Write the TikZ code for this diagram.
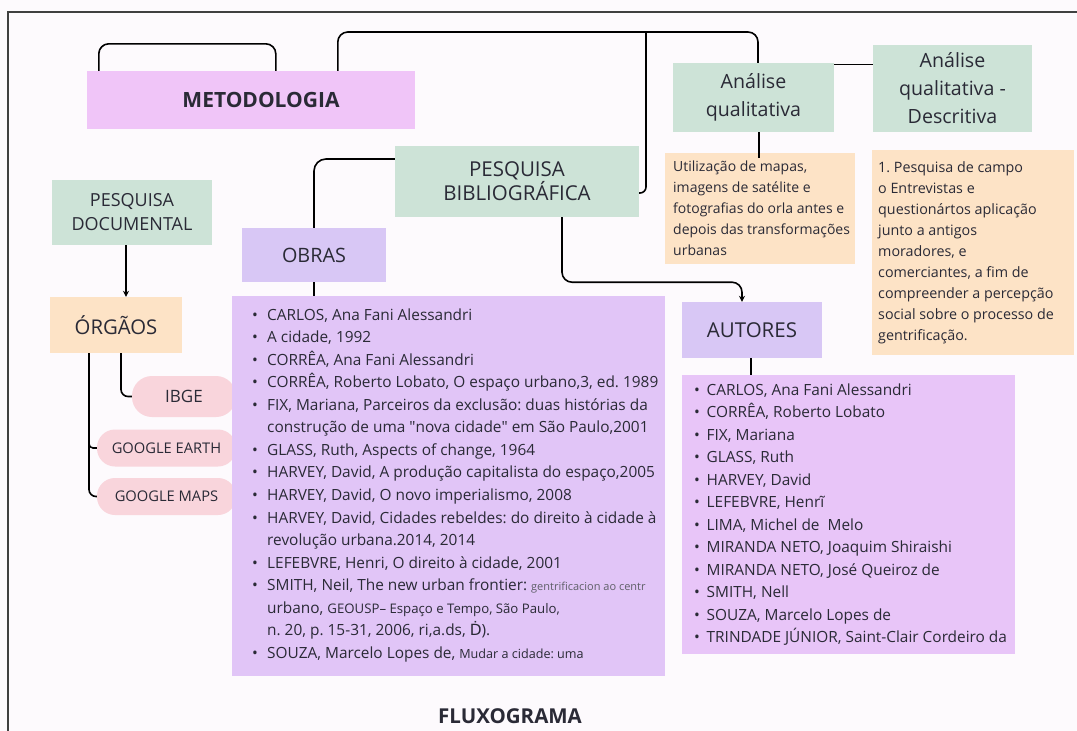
\documentclass[tikz,border=0pt]{standalone}
\usepackage{fontspec}
\setmainfont{Open Sans}
\newfontfamily\dejavu{DejaVu Sans}
\usetikzlibrary{arrows.meta,calc}
\definecolor{bgc}{HTML}{FDFAFD}
\definecolor{txt}{HTML}{2A2A36}
\definecolor{greenc}{HTML}{CDE3D7}
\definecolor{metoc}{HTML}{F0C5F8}
\definecolor{lavc}{HTML}{D8C7F5}
\definecolor{olistc}{HTML}{E1C5F7}
\definecolor{alistc}{HTML}{E8C5F8}
\definecolor{orangec}{HTML}{FDE3C6}
\definecolor{pinkc}{HTML}{F9D5DC}
\newcommand\bul{\makebox[15pt][l]{\textbullet}}
\newcommand\ind{\hspace*{15pt}}
\newcommand\abul{\makebox[12.5pt][l]{\textbullet}}
\frenchspacing
\begin{document}
\begin{tikzpicture}[x=1pt,y=-1pt,
  box/.style={inner sep=0pt, align=center, text=txt},
  listtxt/.style={inner sep=0pt, align=left, text=txt, font=\fontsize{15.4}{22.55}\selectfont},
  conn/.style={draw=black, line width=1.6pt, rounded corners=10pt},
  arr/.style={conn, -{Stealth[length=6pt,width=6pt]}}]
\fill[bgc] (0,0) rectangle (1077,731);
\useasboundingbox (0,0) rectangle (1077,731);
\draw[line width=1.2pt, color=black!75] (8,731) -- (8,12) -- (1077,12);

% boxes
\node[box, fill=metoc, minimum width=328pt, minimum height=58pt, font=\fontsize{21}{24}\selectfont\bfseries] (meto) at (251,100) {\hspace*{20pt}METODOLOGIA};
\node[box, fill=greenc, minimum width=160pt, minimum height=65pt, font=\fontsize{18}{24}\selectfont] (pd) at (132,212.5) {PESQUISA\\DOCUMENTAL};
\node[box, fill=orangec, minimum width=132pt, minimum height=56pt, font=\fontsize{20.3}{24}\selectfont] (org) at (116,325) {ÓRGÃOS};
\node[box, fill=pinkc, minimum width=104pt, minimum height=41pt, rounded corners=20pt, font=\fontsize{17}{20}\selectfont] (ibge) at (184,396.5) {IBGE};
\node[box, fill=pinkc, minimum width=139pt, minimum height=37pt, rounded corners=18pt, font=\fontsize{14.7}{17}\selectfont] (gearth) at (166.5,448) {GOOGLE EARTH};
\node[box, fill=pinkc, minimum width=139pt, minimum height=37pt, rounded corners=18pt, font=\fontsize{14.7}{17}\selectfont] (gmaps) at (166.5,496.5) {GOOGLE MAPS};
\node[box, fill=greenc, minimum width=244pt, minimum height=71pt, font=\fontsize{20.5}{24}\selectfont] (pb) at (517,181.5) {PESQUISA\\BIBLIOGRÁFICA};
\node[box, fill=lavc, minimum width=144pt, minimum height=54pt, font=\fontsize{19.8}{22}\selectfont] (obras) at (314,255) {OBRAS};
\node[box, fill=greenc, minimum width=161pt, minimum height=69pt, font=\fontsize{19.6}{28}\selectfont] (aq) at (753.5,97.5) {Análise\\qualitativa};
\node[box, fill=greenc, minimum width=159pt, minimum height=87pt, font=\fontsize{19.6}{28}\selectfont] (aqd) at (952.5,88.5) {Análise\\qualitativa -\\Descritiva};
\node[box, fill=lavc, minimum width=140pt, minimum height=56pt, font=\fontsize{20.5}{22}\selectfont] (aut) at (752,330) {AUTORES};

% orange text boxes
\node[fill=orangec, minimum width=190pt, minimum height=111pt, anchor=north west, inner sep=0pt] (or1) at (665,153) {};
\node[listtxt, anchor=west, font=\fontsize{14}{21}\selectfont] (or1txt) at ([xshift=8pt]or1.west) {Utilização de mapas,\\imagens de satélite e\\fotografias do orla antes e\\depois das transformações\\urbanas};
\node[fill=orangec, minimum width=202pt, minimum height=205pt, anchor=north west, inner sep=0pt] (or2) at (872,150) {};
\node[listtxt, anchor=west, font=\fontsize{14.3}{21}\selectfont] (or2txt) at ([xshift=6pt]or2.west) {1. Pesquisa de campo\\o Entrevistas e\\questionártos aplicação\\junto a antigos\\moradores, e\\comerciantes, a fim de\\compreender a percepção\\social sobre o processo de\\gentrificação.};

% lists
\node[fill=olistc, minimum width=433pt, minimum height=380pt, anchor=north west, inner sep=0pt] (olist) at (232,296) {};
\node[listtxt, anchor=west] (olisttxt) at ([xshift=20pt,yshift=1pt]olist.west) {%
\bul CARLOS, Ana Fani Alessandri\\
\bul A cidade, 1992\\
\bul CORRÊA, Ana Fani Alessandri\\
\bul CORRÊA, Roberto Lobato, O espaço urbano,3, ed. 1989\\
\bul FIX, Mariana, Parceiros da exclusão: duas histórias da\\
\ind construção de uma \textquotedbl nova cidade\textquotedbl{} em São Paulo,2001\\
\bul GLASS, Ruth, Aspects of change, 1964\\
\bul HARVEY, David, A produção capitalista do espaço,2005\\
\bul HARVEY, David, O novo imperialismo, 2008\\
\bul HARVEY, David, Cidades rebeldes: do direito à cidade à\\
\ind revolução urbana.2014, 2014\\
\bul LEFEBVRE, Henri, O direito à cidade, 2001\\
\bul SMITH, Neil, The new urban frontier: {\fontsize{11}{22.55}\selectfont\color{txt!75}gentrificacion ao centr}\\
\ind urbano, {\fontsize{13.2}{22.55}\selectfont GEOUSP– Espaço e Tempo, São Paulo,}\\
\ind n. 20, p. 15-31, 2006, ri,a.ds, {\dejavu Ḋ}).\\
\bul SOUZA, Marcelo Lopes de, {\fontsize{12.6}{22.55}\selectfont Mudar a cidade: uma}};

\node[fill=alistc, minimum width=333pt, minimum height=279pt, anchor=north west, inner sep=0pt] (alist) at (682,375) {};
\node[listtxt, anchor=west, font=\fontsize{15.4}{22.5}\selectfont] (alisttxt) at ([xshift=12pt]alist.west) {%
\abul CARLOS, Ana Fani Alessandri\\
\abul CORRÊA, Roberto Lobato\\
\abul FIX, Mariana\\
\abul GLASS, Ruth\\
\abul HARVEY, David\\
\abul LEFEBVRE, Henrĩ\\
\abul LIMA, Michel de\ \ Melo\\
\abul MIRANDA NETO, Joaquim Shiraishi\\
\abul MIRANDA NETO, José Queiroz de\\
\abul SMITH, Nell\\
\abul SOUZA, Marcelo Lopes de\\
\abul TRINDADE JÚNIOR, Saint-Clair Cordeiro da};

\node[box, font=\fontsize{20.5}{24}\selectfont\bfseries] (flux) at (510,716) {FLUXOGRAMA};

% connectors
\coordinate (m1) at ([xshift=12pt]meto.north west);
\coordinate (m2) at ([xshift=189pt]meto.north west);
\draw[conn] (m1) -- ++(0,-27) -| (m2);
\coordinate (m3) at ([xshift=251pt]meto.north west);
\coordinate (topy) at (0,32);
\coordinate (aqtop) at ([xshift=4.5pt]aq.north);
\draw[conn] (m3) |- (topy -| aqtop) -- (aqtop);
\coordinate (br) at (646,32);
\draw[conn, rounded corners=6pt] (br) |- ([yshift=-11.5pt]pb.east);
\draw[conn, rounded corners=12pt] ([yshift=22.5pt]pb.west) -| (obras.north);
\draw[conn] (obras.south) -- (obras.south |- olist.north);
\draw[arr] ([xshift=-6pt]pd.south) -- ([xshift=-6pt]pd.south |- org.north);
\coordinate (o1) at ([xshift=-27pt]org.south);
\coordinate (o2) at ([xshift=5pt]org.south);
\draw[conn, rounded corners=7pt] (o1) |- (gmaps.west);
\draw[conn, rounded corners=4pt] ([yshift=6pt]o1 |- gearth.west) -- (o1 |- gearth.west) -- (gearth.west);
\draw[conn, rounded corners=7pt] (o2) |- (ibge.west);
\draw[conn] ([yshift=-1.5pt]aq.north east) -- ([yshift=-1.5pt]aq.north east -| aqd.west);
\draw[conn] ([xshift=5.5pt]aq.south) -- ([xshift=5.5pt,yshift=-5pt]aq.south |- or1.north);
\draw[arr] ([xshift=45pt]pb.south) -- ++(0,65) -| ([xshift=-10pt]aut.north);
\draw[conn] ([xshift=-1pt]aut.south) -- ([xshift=-1pt]aut.south |- alist.north);
\end{tikzpicture}
\end{document}
